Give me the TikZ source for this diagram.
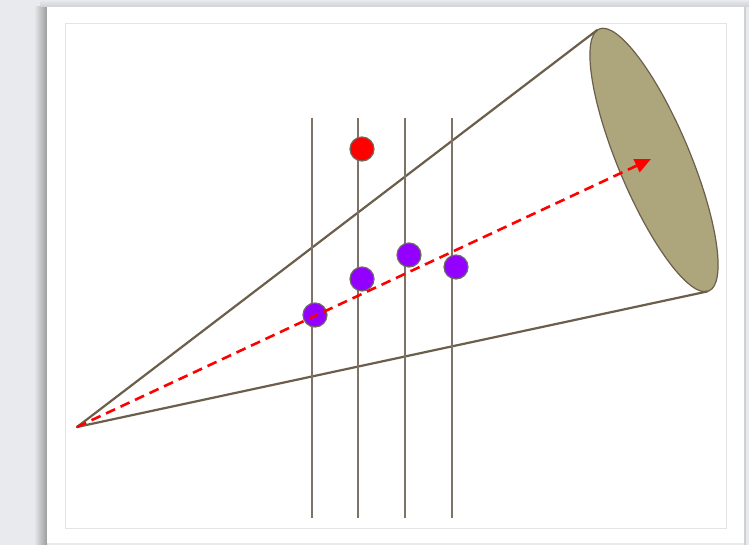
\documentclass[tikz,border=0pt]{standalone}
\usetikzlibrary{arrows.meta}
\definecolor{bggray}{HTML}{E8EAED}
\definecolor{shadowdark}{HTML}{9C9C9C}
\definecolor{shadowtop}{HTML}{CDD0D4}
\definecolor{conebrown}{HTML}{6B5E4B}
\definecolor{vline}{HTML}{7D7366}
\definecolor{khaki}{HTML}{ADA67D}
\definecolor{dotred}{HTML}{FF0000}
\definecolor{dotpurple}{HTML}{9400FF}
\definecolor{dotedge}{HTML}{6E6A5E}
\definecolor{framegray}{HTML}{E4E4E4}
\tikzset{
  conelinestyle/.style={draw=conebrown, line width=2.2pt, line cap=round},
  gridline/.style={draw=vline, line width=1.4pt},
  dotnode/.style={circle, draw=dotedge, line width=1.2pt, minimum size=24pt, inner sep=0pt},
  reddot/.style={dotnode, fill=dotred},
  purpledot/.style={dotnode, fill=dotpurple},
  rayarrow/.style={draw=dotred, line width=2.6pt, dash pattern=on 10pt off 6pt, -{Triangle[length=16pt,width=14pt]}}
}
\begin{document}
\begin{tikzpicture}[x=1pt,y=-1pt]
\useasboundingbox (0,0) rectangle (749,545);
% background
\fill[bggray] (0,0) rectangle (749,545);
% shadow of paper
\shade[left color=bggray, right color=shadowdark] (34,7) rectangle (47,545);
\shade[top color=bggray, bottom color=shadowtop] (40,0) rectangle (749,7);
\fill[shadowtop] (744,7) rectangle (746,545);
% paper
\fill[white] (47,7) rectangle (744,543);
\draw[framegray, line width=1pt] (65,24) rectangle (726,528);
% key points
\coordinate (apex) at (77,427);
\coordinate (tanTop) at (597.1,30.1);
\coordinate (tanBot) at (707.2,291.5);
\coordinate (rayEnd) at (651,159);
% ellipse (cone base)
\draw[fill=khaki, draw=conebrown, line width=1.2pt, shift={(654,160)}, rotate=-67.3] (0,0) ellipse (142pt and 36pt);
% cone sides
\draw[conelinestyle] (apex) -- (tanTop);
\draw[conelinestyle] (apex) -- (tanBot);
% vertical lines
\foreach \n/\x in {1/312,2/358,3/405,4/452}{
  \coordinate (v\n top) at (\x,118);
  \coordinate (v\n bot) at (\x,518);
  \draw[gridline] (v\n top) -- (v\n bot);
}
% dots
\node[reddot] (r1) at (362,149) {};
\node[purpledot] (p1) at (315,315) {};
\node[purpledot] (p2) at (362,279) {};
\node[purpledot] (p3) at (409,255) {};
\node[purpledot] (p4) at (456,267) {};
% ray
\draw[rayarrow] (apex) -- (rayEnd);
\end{tikzpicture}
\end{document}
